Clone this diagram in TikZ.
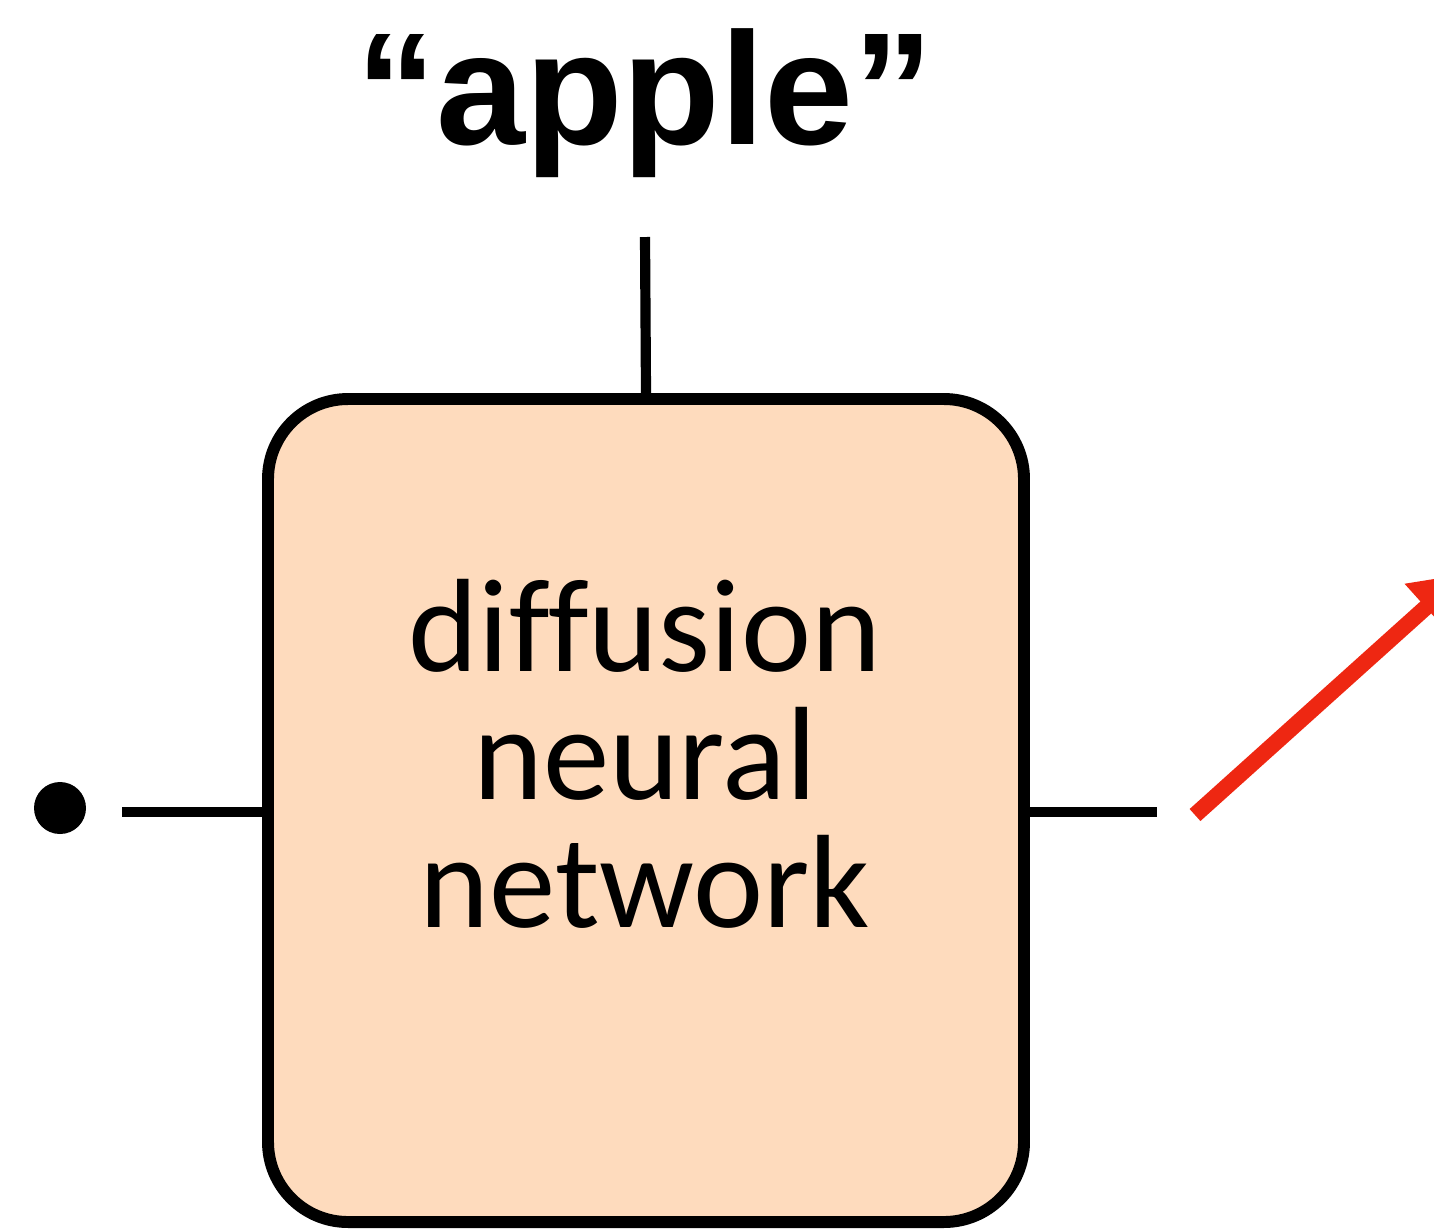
\documentclass[tikz,border=0pt]{standalone}
\usepackage{fontspec}
\setmainfont{Carlito}[Ligatures=NoCommon]
\newfontfamily\kopffont{Liberation Sans}
\usetikzlibrary{arrows.meta}
\definecolor{pfirsich}{HTML}{FEDBBD}
\definecolor{signal}{HTML}{EE2712}
\tikzset{
  netz/.style={draw=black,fill=pfirsich,line width=3.4pt,rounded corners=0.8cm,
    minimum width=7.56cm,minimum height=8.23cm,inner sep=0pt},
  leit/.style={black,line width=2.9pt},
  pfeil/.style={-{Triangle[length=0.5cm,width=0.6cm]},signal,line width=4.6pt},
  punkt/.style={circle,fill=black,minimum size=0.52cm,inner sep=0pt},
}
\begin{document}
\begin{tikzpicture}[x=0.1mm,y=-0.1mm]
  \useasboundingbox (0,0) rectangle (1434,1228);
  \node[netz] (net) at (646,810.5) {};
  \node[font=\kopffont\bfseries\fontsize{45.5}{45.5}\selectfont,anchor=base,inner sep=0pt]
    (wort) at (645,144) {“apple”};
  \node[align=center,font=\fontsize{37.8}{36.4}\selectfont,inner sep=0pt]
    (txt) at (645,754) {diffusion\\neural\\network};
  \coordinate (oben) at (645,237);
  \draw[leit] (oben)--(net.north);
  \node[punkt] (ein) at (60,808) {};
  \coordinate (links) at (122,812);
  \draw[leit] (links)--(net.west |- links);
  \coordinate (rechts) at (1157,812);
  \draw[leit] (net.east |- rechts)--(rechts);
  \coordinate (fuss) at (1195,815); \coordinate (spitze) at (1463,574);
  \draw[pfeil] (fuss)--(spitze);
\end{tikzpicture}
\end{document}
